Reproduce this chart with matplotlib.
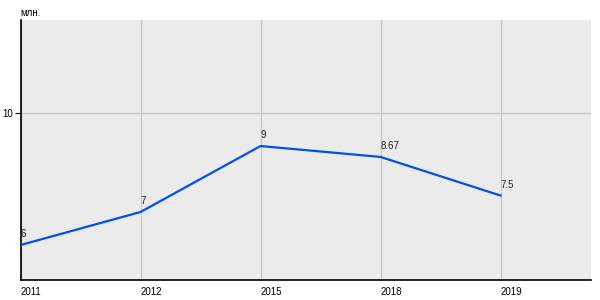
import matplotlib
matplotlib.use('Agg')
from matplotlib import pyplot as plt

years = ['2011', '2012', '2015', '2018', '2019']
values = [6, 7, 9, 8.67, 7.5]
labels = ['6', '7', '9', '8.67', '7.5']

plt.rcParams['font.family'] = ['Liberation Sans', 'DejaVu Sans']

fig = plt.figure(figsize=(6, 3), dpi=100)
ax = fig.add_axes([20.5 / 600, 20 / 300, 570 / 600, 260 / 300])
ax.set_facecolor('#ebebeb')

x = list(range(len(years)))
ax.plot(x, values, color='#0050ee', linewidth=1.6, zorder=3)
for xi, v, lab in zip(x, values, labels):
    ax.annotate(lab, (xi, v), xytext=(0, 4), textcoords='offset points',
                ha='left', va='bottom', fontsize=7, color='#222222')

ax.set_xlim(0, 4.75)
ax.set_ylim(4.94, 12.82)
ax.set_xticks(x)
ax.set_xticklabels(years, ha='left', fontsize=7)
ax.set_yticks([10])
ax.set_yticklabels(['10'], fontsize=7)
ax.tick_params(axis='x', length=0, pad=5)
ax.tick_params(axis='y', length=4, width=0.8, pad=1)
ax.grid(True, color='#c8c8c8', linewidth=1)
ax.set_axisbelow(True)

ax.spines['top'].set_visible(False)
ax.spines['right'].set_visible(False)
ax.spines['left'].set_linewidth(1.2)
ax.spines['bottom'].set_linewidth(1.2)

fig.text(20 / 600, 1 - 13 / 300, 'млн.', fontsize=7, ha='left', va='center')

fig.savefig('out.png', dpi=100)
